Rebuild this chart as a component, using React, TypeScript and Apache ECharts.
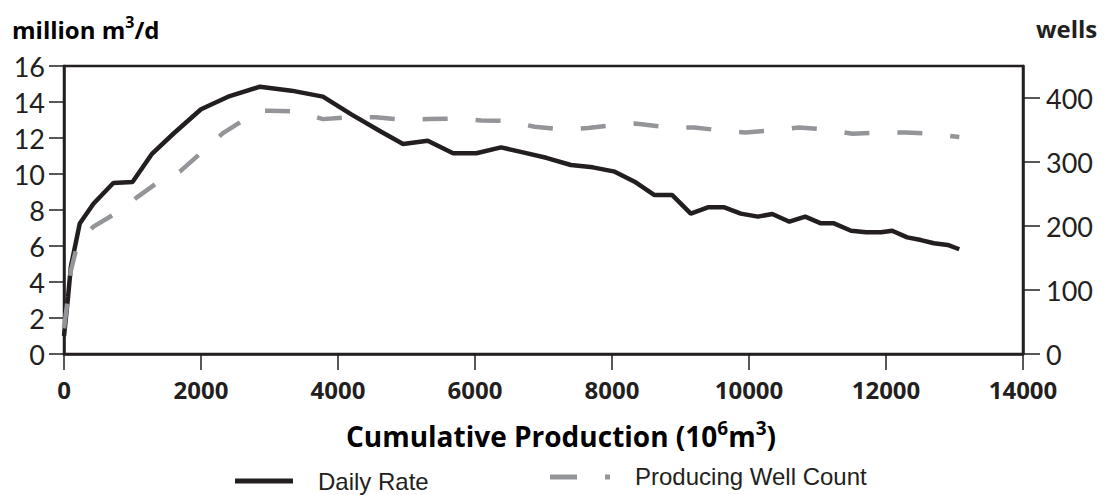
import React, { useEffect, useRef } from "react";
import * as echarts from "echarts";

// Daily rate (million m3/d) against cumulative production (10^6 m3)
const rateCumulative = [
  0, 60, 100, 230, 430, 720, 1000, 1280, 1600, 2000, 2420, 2860, 3320, 3780,
  4200, 4630, 4950, 5310, 5680, 6020, 6380, 6700, 7040, 7400, 7720, 8040,
  8330, 8620, 8880, 9150, 9400, 9640, 9880, 10130, 10340, 10590, 10820, 11050,
  11240, 11490, 11710, 11930, 12090, 12310, 12510, 12700, 12900, 13070,
];
const dailyRate = [
  1.0, 3.2, 4.85, 7.25, 8.35, 9.5, 9.55, 11.1, 12.25, 13.6, 14.33, 14.85,
  14.63, 14.3, 13.3, 12.35, 11.67, 11.85, 11.15, 11.15, 11.48, 11.2, 10.9,
  10.5, 10.37, 10.13, 9.57, 8.83, 8.83, 7.8, 8.15, 8.15, 7.8, 7.63, 7.78, 7.35,
  7.63, 7.26, 7.26, 6.85, 6.76, 6.76, 6.85, 6.48, 6.33, 6.15, 6.06, 5.82,
];

// Producing well count against cumulative production
const wellCumulative = [
  0, 60, 100, 200, 430, 790, 1080, 1420, 1690, 2050, 2320, 2660, 2880, 3000,
  3420, 3780, 4200, 4550, 4950, 5310, 5720, 6090, 6500, 6870, 7280, 7650,
  8060, 8330, 8430, 8840, 9200, 9610, 9950, 10370, 10730, 11140, 11510, 11920,
  12290, 12680, 13070,
];
const wellCount = [
  40, 90, 130, 173, 199, 222, 246, 272, 285, 319, 345, 368, 380, 380, 379, 367,
  370, 370, 366, 367, 368, 365, 364, 355, 351, 353, 358, 360, 359, 354, 354,
  349, 346, 350, 354, 351, 344, 346, 346, 344, 339,
];

// Axis ticks
const xTicks = [0, 2000, 4000, 6000, 8000, 10000, 12000, 14000];
const rateTicks = [0, 2, 4, 6, 8, 10, 12, 14, 16];
const wellTicks = [0, 100, 200, 300, 400];

const INK = "#231f20";
const GREY = "#939598";
const BOLD_FONT = "'Open Sans', Lato, sans-serif";
const LIGHT_FONT = "Lato, 'Liberation Sans', sans-serif";
const LEGEND_FONT = "'Liberation Sans', Arial, sans-serif";

export default function App() {
  const ref = useRef<HTMLDivElement | null>(null);

  useEffect(() => {
    if (!ref.current) return;
    const chart = echarts.init(ref.current, undefined, { renderer: "svg" });

    const rateData = rateCumulative.map((x, i) => [x, dailyRate[i]]);
    const wellData = wellCumulative.map((x, i) => [x, wellCount[i]]);

    const supRich = (size: number) => ({
      a: {
        fontFamily: BOLD_FONT,
        fontWeight: "bold",
        fontSize: size,
        color: INK,
        lineHeight: Math.round(size * 1.25),
      },
      b: {
        fontFamily: BOLD_FONT,
        fontWeight: "bold",
        fontSize: Math.round(size * 0.68),
        color: INK,
        lineHeight: Math.round(size * 0.55),
        verticalAlign: "top",
      },
    });

    chart.setOption({
      animation: false,
      grid: {
        left: 64,
        right: 85,
        top: 66,
        bottom: 141,
        show: true,
        borderColor: INK,
        borderWidth: 2.5,
        backgroundColor: "transparent",
      },
      xAxis: {
        type: "value",
        min: 0,
        max: 14000,
        interval: 2000,
        axisLine: { show: true, lineStyle: { color: INK, width: 2.5 } },
        axisTick: {
          show: true,
          length: 16,
          customValues: xTicks,
          lineStyle: { color: INK, width: 1.5 },
        },
        axisLabel: {
          customValues: xTicks,
          formatter: (v: number) => String(v),
          color: INK,
          fontFamily: BOLD_FONT,
          fontWeight: "bold",
          fontSize: 24,
          margin: 23,
        },
        splitLine: { show: false },
      },
      yAxis: [
        {
          type: "value",
          min: 0,
          max: 16,
          interval: 2,
          axisLine: { show: true, lineStyle: { color: INK, width: 2.5 } },
          axisTick: {
            show: true,
            length: 15,
            customValues: rateTicks,
            lineStyle: { color: INK, width: 1.5 },
          },
          axisLabel: {
            customValues: rateTicks,
            formatter: (v: number) => String(v),
            color: INK,
            fontFamily: LIGHT_FONT,
            fontWeight: "normal",
            fontSize: 27,
            margin: 19,
          },
          splitLine: { show: false },
        },
        {
          type: "value",
          position: "right",
          min: 0,
          max: 450,
          interval: 50,
          axisLine: { show: true, lineStyle: { color: INK, width: 2.5 } },
          axisTick: {
            show: true,
            length: 17,
            customValues: wellTicks,
            lineStyle: { color: INK, width: 1.5 },
          },
          axisLabel: {
            customValues: wellTicks,
            formatter: (v: number) => String(v),
            color: INK,
            fontFamily: LIGHT_FONT,
            fontWeight: "normal",
            fontSize: 27,
            margin: 23,
          },
          splitLine: { show: false },
        },
      ],
      series: [
        {
          name: "Daily Rate",
          type: "line",
          yAxisIndex: 0,
          data: rateData,
          symbol: "none",
          showSymbol: false,
          lineStyle: { color: INK, width: 4.5 },
          z: 2,
        },
        {
          name: "Producing Well Count",
          type: "line",
          yAxisIndex: 1,
          data: wellData,
          symbol: "none",
          showSymbol: false,
          lineStyle: { color: GREY, width: 4.5, type: [25, 28] },
          z: 3,
        },
      ],
      graphic: [
        {
          type: "text",
          left: 12,
          top: 14,
          style: {
            text: "{a|million m}{b|3}{a|/d}",
            rich: supRich(24),
          },
        },
        {
          type: "text",
          left: 1036,
          top: 16,
          style: {
            text: "wells",
            fill: INK,
            font: `bold 24px ${BOLD_FONT}`,
          },
        },
        {
          type: "text",
          x: 561,
          y: 436,
          style: {
            text: "{a|Cumulative Production (10}{b|6}{a|m}{b|3}{a|)}",
            rich: supRich(28),
            align: "center",
            verticalAlign: "middle",
          },
        },
        {
          type: "line",
          shape: { x1: 235, y1: 481, x2: 293, y2: 481 },
          style: { stroke: INK, lineWidth: 5 },
        },
        {
          type: "text",
          x: 318,
          y: 481,
          style: {
            text: "Daily Rate",
            fill: INK,
            font: `24px ${LEGEND_FONT}`,
            verticalAlign: "middle",
          },
        },
        {
          type: "line",
          shape: { x1: 550, y1: 477, x2: 577, y2: 477 },
          style: { stroke: GREY, lineWidth: 5 },
        },
        {
          type: "rect",
          shape: { x: 605, y: 474.5, width: 5, height: 5 },
          style: { fill: GREY },
        },
        {
          type: "text",
          x: 635,
          y: 476,
          style: {
            text: "Producing Well Count",
            fill: INK,
            font: `24px ${LEGEND_FONT}`,
            verticalAlign: "middle",
          },
        },
      ],
    });

    return () => chart.dispose();
  }, []);

  return (
    <div
      ref={ref}
      style={{
        position: "fixed",
        left: 0,
        top: 0,
        width: 1108,
        height: 495,
        background: "#ffffff",
      }}
    />
  );
}
